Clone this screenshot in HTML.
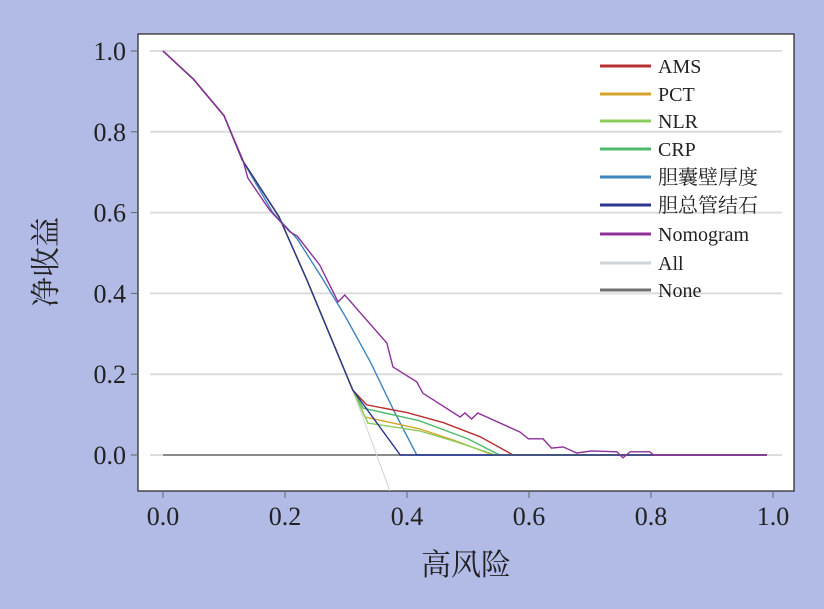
<!DOCTYPE html>
<html><head><meta charset="utf-8"><style>
body{margin:0;background:#b1bbe6;}
svg{display:block;font-family:"Liberation Serif","Noto Serif CJK SC",serif;}
</style></head><body>
<svg id="chart" width="824" height="609" viewBox="0 0 824 609">
<rect x="0" y="0" width="824" height="609" fill="#b1bbe6"/>
<rect x="138" y="34" width="656" height="457" fill="#fff" stroke="#222" stroke-width="1.2"/>
<g id="grid"></g><g id="axes"></g><g id="series"></g><g id="legend"></g>
<text transform="translate(56,262) rotate(-90)" text-anchor="middle" font-size="30" fill="#222">净收益</text>
<text x="466" y="575" text-anchor="middle" font-size="30" fill="#222">高风险</text>
</svg>
<script>
const xTicks=[0,0.2,0.4,0.6,0.8,1.0];
const yTicks=[0,0.2,0.4,0.6,0.8,1.0];
const tickLabels=["0.0","0.2","0.4","0.6","0.8","1.0"];
const seriesNames=["AMS","PCT","NLR","CRP","胆囊壁厚度","胆总管结石","Nomogram","All","None"];
const seriesColors=["#b83030","#d4a32a","#8ccc5a","#4dbb6a","#3d86c0","#2c3590","#8e2f9a","#cfd4d8","#707070"];
const common=[[0,1],[0.05,0.93],[0.1,0.84],[0.13,0.73],[0.19,0.59],[0.236,0.433],[0.311,0.161]];
const amsVals=[[0.311,0.161],[0.334,0.124],[0.40,0.105],[0.46,0.08],[0.52,0.045],[0.574,0],[0.99,0]];
const pctVals=[[0.311,0.161],[0.331,0.094],[0.42,0.065],[0.48,0.035],[0.541,0],[0.99,0]];
const nlrVals=[[0.311,0.161],[0.336,0.079],[0.42,0.06],[0.48,0.033],[0.545,0],[0.99,0]];
const crpVals=[[0.311,0.161],[0.328,0.116],[0.42,0.085],[0.50,0.04],[0.552,0],[0.99,0]];
const gbwVals=[[0,1],[0.05,0.93],[0.1,0.84],[0.13,0.73],[0.18,0.60],[0.22,0.535],[0.26,0.44],[0.30,0.34],[0.34,0.23],[0.38,0.105],[0.416,0],[0.99,0]];
const cbdVals=[[0.389,0],[0.99,0]];
const nomoVals=[[0,1],[0.05,0.93],[0.1,0.84],[0.131,0.73],[0.139,0.686],[0.175,0.606],[0.208,0.552],[0.22,0.542],[0.257,0.47],[0.287,0.379],[0.298,0.396],[0.367,0.277],[0.377,0.218],[0.416,0.181],[0.426,0.153],[0.487,0.094],[0.495,0.104],[0.506,0.089],[0.516,0.104],[0.541,0.087],[0.585,0.057],[0.599,0.04],[0.623,0.04],[0.637,0.017],[0.656,0.02],[0.678,0.005],[0.703,0.01],[0.744,0.008],[0.754,-0.007],[0.766,0.008],[0.798,0.008],[0.804,0],[0.99,0]];
const allVals=[[0.311,0.161],[0.372,-0.089]];
const noneVals=[[0,0],[0.99,0]];
const X=v=>163+v*610, Y=v=>455-v*404;
const NS="http://www.w3.org/2000/svg";
function mk(tag,attrs,parent){const e=document.createElementNS(NS,tag);for(const k in attrs)e.setAttribute(k,attrs[k]);parent.appendChild(e);return e;}
const grid=document.getElementById('grid'),axes=document.getElementById('axes'),ser=document.getElementById('series'),leg=document.getElementById('legend');
yTicks.forEach((v,i)=>{
 const g=mk('line',{x1:150,x2:782,y1:Y(v),y2:Y(v),stroke:'#dcdcdc','stroke-width':2},grid);
 
 
 const t=mk('line',{x1:131,x2:138,y1:Y(v),y2:Y(v),stroke:'#666'},axes);
 
 
 const l=mk('text',{x:126,y:Y(v)+9,'text-anchor':'end','font-size':26,fill:'#222'},axes);l.textContent=tickLabels[i];
 
 
});
xTicks.forEach((v,i)=>{
 const t=mk('line',{x1:X(v),x2:X(v),y1:491,y2:498,stroke:'#666'},axes);
 
 
 const l=mk('text',{x:X(v),y:525,'text-anchor':'middle','font-size':26,fill:'#222'},axes);l.textContent=tickLabels[i];
 
 
});
const cp=mk('clipPath',{id:'clip'},document.getElementById('chart'));mk('rect',{x:138,y:34,width:656,height:457},cp);
const data=[common.concat(amsVals.slice(1)),common.concat(pctVals.slice(1)),common.concat(nlrVals.slice(1)),common.concat(crpVals.slice(1)),gbwVals,common.concat(cbdVals),nomoVals,common.concat(allVals.slice(1)),noneVals];
const order=[8,7,4,0,3,1,2,5,6];
order.forEach(i=>{
 const p=mk('polyline',{points:data[i].map(d=>X(d[0])+','+Y(d[1])).join(' '),fill:'none',stroke:seriesColors[i],'stroke-width':i==7?1:1.4,'clip-path':'url(#clip)'},ser);
 
 
});
const legY=[66,94,121,149,177,205,234,263,290];
seriesNames.forEach((n,i)=>{
 const l=mk('line',{x1:600,x2:651,y1:legY[i],y2:legY[i],stroke:seriesColors[i],'stroke-width':3},leg);
 
 
 const t=mk('text',{x:658,y:legY[i]+7,'font-size':20,fill:'#222'},leg);t.textContent=n;
 
 
});
</script>
</body></html>
